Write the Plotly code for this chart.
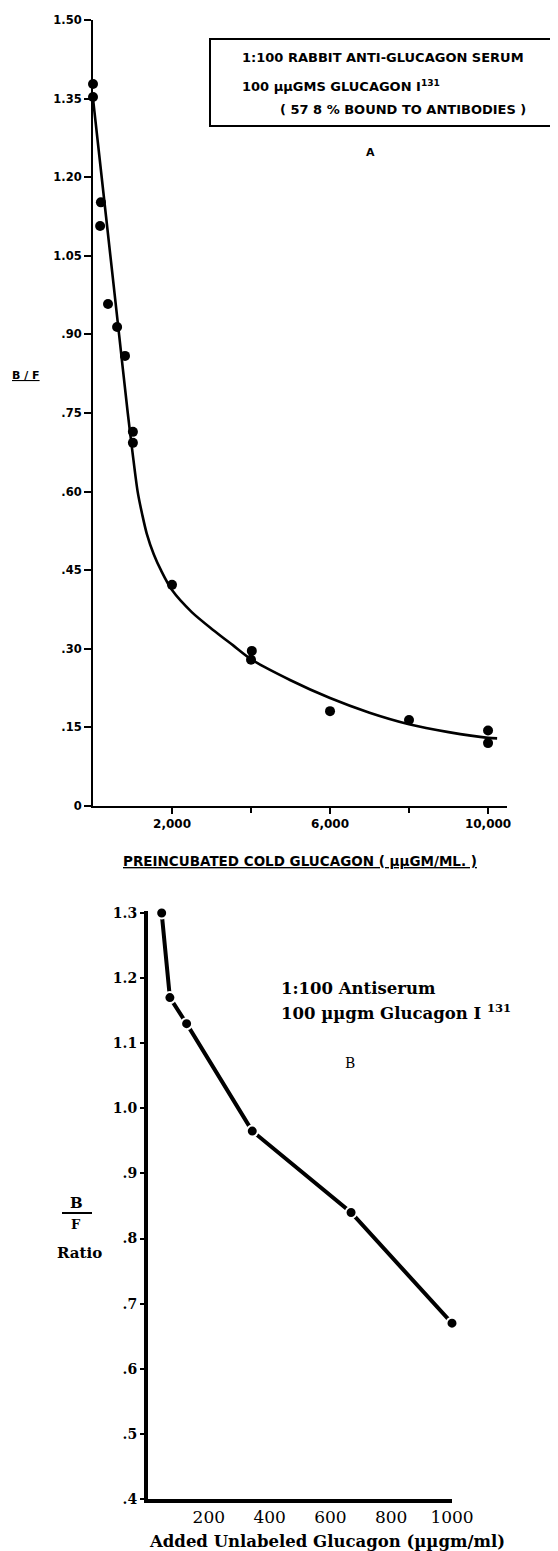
import plotly.graph_objects as go

# The page body has an 8px margin, so the figure is drawn 8px in from the top-left.
OFF = 8
W, H = 558 - OFF, 1551 - OFF

# ---------------- Panel A data ----------------
a_pts_x = [0, 0, 200, 180, 380, 610, 810, 1010, 1010, 2000, 4020, 4000, 6000, 8000, 10000, 10000]
a_pts_y = [1.378, 1.353, 1.152, 1.107, 0.958, 0.914, 0.859, 0.714, 0.693, 0.422, 0.296, 0.279, 0.181, 0.164, 0.144, 0.120]

a_curve_x = [0, 330, 660, 880, 1000, 1130, 1250, 1360, 1540, 1720, 2000, 2500, 3040, 3540, 4025, 5000, 6000, 7000, 8000, 9000, 10000, 10230]
a_curve_y = [1.35, 1.125, 0.90, 0.75, 0.675, 0.60, 0.555, 0.52, 0.48, 0.45, 0.412, 0.37, 0.336, 0.307, 0.279, 0.240, 0.206, 0.178, 0.156, 0.141, 0.130, 0.129]

a_ytick_vals = [0, 0.15, 0.30, 0.45, 0.60, 0.75, 0.90, 1.05, 1.20, 1.35, 1.50]
a_ytick_text = ["0", ".15", ".30", ".45", ".60", ".75", ".90", "1.05", "1.20", "1.35", "1.50"]
a_xtick_vals = [2000, 6000, 10000]
a_xtick_text = ["2,000", "6,000", "10,000"]
a_xminor_vals = [4000, 8000]

# ---------------- Panel B data ----------------
b_x = [45, 72, 127, 343, 668, 1000]
b_y = [1.30, 1.17, 1.13, 0.965, 0.84, 0.67]

b_ytick_vals = [0.4, 0.5, 0.6, 0.7, 0.8, 0.9, 1.0, 1.1, 1.2, 1.3]
b_ytick_text = [".4", ".5", ".6", ".7", ".8", ".9", "1.0", "1.1", "1.2", "1.3"]
b_xtick_vals = [200, 400, 600, 800, 1000]
b_xtick_text = ["200", "400", "600", "800", "1000"]


def px(x):
    return (x - OFF) / W


def py(y):
    return 1 - (y - OFF) / H


SANS = "DejaVu Sans"
SERIF = "DejaVu Serif"

fig = go.Figure()

# Panel A
fig.add_trace(go.Scatter(
    x=a_curve_x, y=a_curve_y, mode="lines",
    line=dict(color="black", width=2.6, shape="spline", smoothing=0.8),
    xaxis="x", yaxis="y", cliponaxis=False, hoverinfo="skip", showlegend=False))
fig.add_trace(go.Scatter(
    x=a_pts_x, y=a_pts_y, mode="markers",
    marker=dict(color="black", size=10),
    xaxis="x", yaxis="y", cliponaxis=False, showlegend=False))

# Panel B
fig.add_trace(go.Scatter(
    x=b_x, y=b_y, mode="lines+markers",
    line=dict(color="black", width=4),
    marker=dict(color="black", size=11, line=dict(color="white", width=2)),
    xaxis="x2", yaxis="y2", cliponaxis=False, showlegend=False))

fig.update_layout(
    template="none",
    width=W, height=H,
    margin=dict(l=0, r=0, t=0, b=0, autoexpand=False),
    paper_bgcolor="white", plot_bgcolor="white",
    showlegend=False,
    xaxis=dict(
        domain=[px(93), px(507)], range=[0, 10480], anchor="y", automargin=False,
        showgrid=False, zeroline=False,
        showline=True, linecolor="black", linewidth=2,
        ticks="outside", ticklen=6, tickwidth=2, tickcolor="black",
        tickvals=a_xtick_vals, ticktext=a_xtick_text,
        minor=dict(tickvals=a_xminor_vals, ticks="outside", ticklen=5,
                   tickwidth=2, tickcolor="black", showgrid=False),
        tickfont=dict(family=SANS, size=12, color="black", weight="bold"),
    ),
    yaxis=dict(
        domain=[py(806), py(20)], range=[0, 1.5], anchor="x", automargin=False,
        showgrid=False, zeroline=False,
        showline=True, linecolor="black", linewidth=2,
        ticks="outside", ticklen=7, tickwidth=2, tickcolor="black",
        tickvals=a_ytick_vals, ticktext=a_ytick_text,
        tickfont=dict(family=SANS, size=11.5, color="black", weight="bold"),
    ),
    xaxis2=dict(
        domain=[px(148), px(452)], range=[0, 1000], anchor="y2", automargin=False,
        showgrid=False, zeroline=False,
        showline=True, linecolor="black", linewidth=4,
        ticks="", tickvals=b_xtick_vals, ticktext=b_xtick_text,
        tickfont=dict(family=SERIF, size=17, color="black"),
    ),
    yaxis2=dict(
        domain=[py(1499), py(911)], range=[0.4, 1.303], anchor="x2", automargin=False,
        showgrid=False, zeroline=False,
        showline=True, linecolor="black", linewidth=4,
        ticks="outside", ticklen=4, tickwidth=2, tickcolor="black",
        tickvals=b_ytick_vals, ticktext=b_ytick_text,
        tickfont=dict(family=SERIF, size=14, color="black", weight="bold"),
    ),
)

# Panel A legend box
fig.add_shape(type="rect", xref="paper", yref="paper",
              x0=px(210), x1=px(556), y0=py(126), y1=py(39),
              line=dict(color="black", width=2), fillcolor="rgba(0,0,0,0)")

annA = dict(xref="paper", yref="paper", showarrow=False,
            font=dict(family=SANS, size=13, color="black", weight="bold"))
fig.add_annotation(text="1:100 RABBIT ANTI-GLUCAGON SERUM", x=px(240), y=py(58),
                   xanchor="left", yanchor="middle", **annA)
fig.add_annotation(text="100 µµGMS GLUCAGON I<sup>131</sup>", x=px(240), y=py(86),
                   xanchor="left", yanchor="middle", **annA)
fig.add_annotation(text="( 57 8 % BOUND TO ANTIBODIES )", x=px(278), y=py(110),
                   xanchor="left", yanchor="middle", **annA)
fig.add_annotation(text="A", x=px(370), y=py(153), xanchor="center", yanchor="middle",
                   xref="paper", yref="paper", showarrow=False,
                   font=dict(family=SANS, size=11, color="black", weight="bold"))

# Panel A axis labels
fig.add_annotation(text="B / F", x=px(26), y=py(376), xanchor="center", yanchor="middle",
                   xref="paper", yref="paper", showarrow=False,
                   font=dict(family=SANS, size=11, color="black", weight="bold",
                             lineposition="under"))
fig.add_annotation(text="PREINCUBATED COLD GLUCAGON ( µµGM/ML. )", x=px(300), y=py(861),
                   xanchor="center", yanchor="middle",
                   xref="paper", yref="paper", showarrow=False,
                   font=dict(family=SANS, size=13.5, color="black", weight="bold",
                             lineposition="under"))

# Panel B annotations
annB = dict(xref="paper", yref="paper", showarrow=False,
            font=dict(family=SERIF, size=16.5, color="black", weight="bold"))
fig.add_annotation(text="1:100 Antiserum", x=px(279), y=py(988),
                   xanchor="left", yanchor="middle", **annB)
fig.add_annotation(text="100 µµgm Glucagon I <sup>131</sup>", x=px(279), y=py(1012),
                   xanchor="left", yanchor="middle", **annB)
fig.add_annotation(text="B", x=px(350), y=py(1063), xanchor="center", yanchor="middle",
                   xref="paper", yref="paper", showarrow=False,
                   font=dict(family=SERIF, size=14, color="black"))

# Panel B y label: B over F, Ratio
fig.add_annotation(text="B", x=px(76), y=py(1203), xanchor="center", yanchor="middle",
                   xref="paper", yref="paper", showarrow=False,
                   font=dict(family=SERIF, size=15, color="black", weight="bold"))
fig.add_shape(type="line", xref="paper", yref="paper",
              x0=px(62), x1=px(92), y0=py(1213), y1=py(1213),
              line=dict(color="black", width=2))
fig.add_annotation(text="F", x=px(76), y=py(1224), xanchor="center", yanchor="middle",
                   xref="paper", yref="paper", showarrow=False,
                   font=dict(family=SERIF, size=13, color="black", weight="bold"))
fig.add_annotation(text="Ratio", x=px(79), y=py(1253), xanchor="center", yanchor="middle",
                   xref="paper", yref="paper", showarrow=False,
                   font=dict(family=SERIF, size=15, color="black", weight="bold"))

# Panel B x title
fig.add_annotation(text="Added Unlabeled Glucagon (µµgm/ml)", x=px(327), y=py(1541),
                   xanchor="center", yanchor="middle",
                   xref="paper", yref="paper", showarrow=False,
                   font=dict(family=SERIF, size=16.5, color="black", weight="bold"))

fig.write_html("out.html")
